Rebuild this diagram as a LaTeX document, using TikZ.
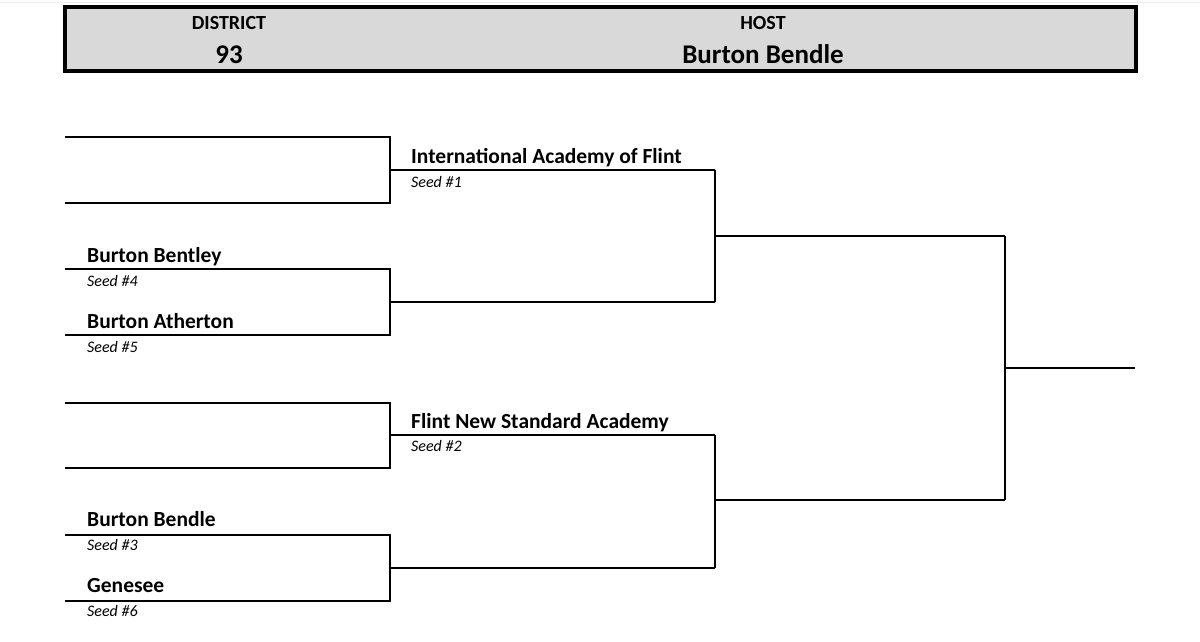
\documentclass[tikz,border=0pt]{standalone}
\usepackage{fontspec}
\setmainfont{Carlito}
\begin{document}
\begin{tikzpicture}[x=1pt,y=-1pt,
  ln/.style={line width=2.4pt},
  team/.style={anchor=base west,font=\bfseries\fontsize{21.5}{24}\selectfont,inner sep=0pt},
  seed/.style={anchor=base west,font=\itshape\fontsize{16}{18}\selectfont,inner sep=0pt},
  hd/.style={font=\bfseries\fontsize{20}{22}\selectfont,inner sep=0pt,anchor=base}]
\useasboundingbox (0,0) rectangle (1200,641);
\draw[gray!15,line width=1pt] (0,2)--(1200,2);
\draw[line width=3.5pt,fill=gray!30] (65,7) rectangle (1136,71);
\node[hd] (d) at (229,29) {DISTRICT};
\node[hd] (h) at (763,29) {HOST};
\node[hd,font=\bfseries\fontsize{27}{30}\selectfont] (dn) at (229,63) {93};
\node[hd,font=\bfseries\fontsize{27}{30}\selectfont] (hn) at (763,63) {Burton Bendle};
\foreach \a/\b/\m in {137/203/170,269/335/302,403/468/435,535/601/568}{
  \draw[ln] (65,\a)--(390,\a)--(390,\b)--(65,\b);
  \draw[ln] (390,\m)--(715,\m);
}
\draw[ln] (715,170)--(715,302); \draw[ln] (715,236)--(1005,236);
\draw[ln] (715,435)--(715,568); \draw[ln] (715,500)--(1005,500);
\draw[ln] (1005,236)--(1005,500); \draw[ln] (1005,368)--(1135,368);
\node[team] (t1) at (87,262) {Burton Bentley};
\node[seed] (s4) at (87,286) {Seed \#4};
\node[team] (t2) at (87,328) {Burton Atherton};
\node[seed] (s5) at (87,352) {Seed \#5};
\node[team] (t3) at (87,526) {Burton Bendle};
\node[seed] (s3) at (87,550) {Seed \#3};
\node[team] (t4) at (87,592) {Genesee};
\node[seed] (s6) at (87,616) {Seed \#6};
\node[team] (t5) at (411,163) {International Academy of Flint};
\node[seed] (s1) at (411,187) {Seed \#1};
\node[team] (t6) at (411,428) {Flint New Standard Academy};
\node[seed] (s2) at (411,451) {Seed \#2};
\end{tikzpicture}
\end{document}
